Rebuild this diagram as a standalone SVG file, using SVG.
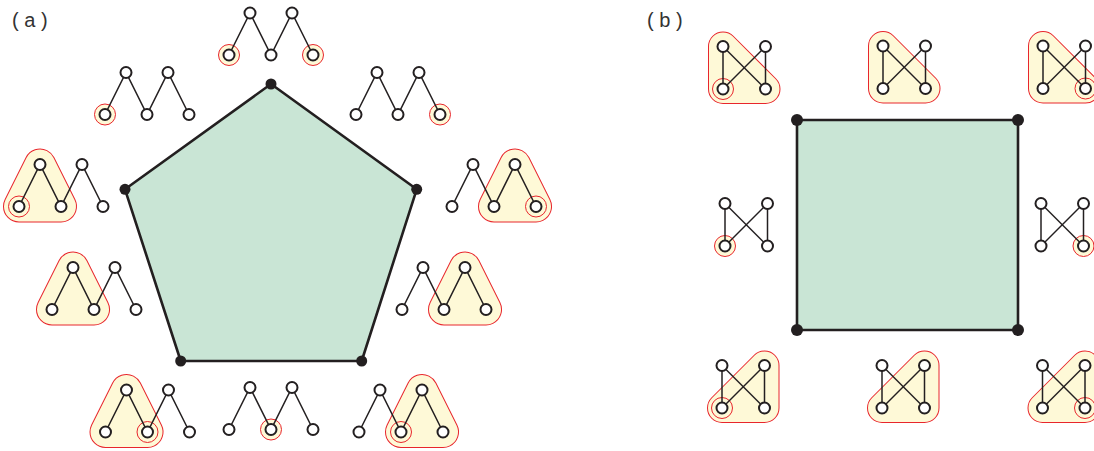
<svg xmlns="http://www.w3.org/2000/svg" xmlns:xlink="http://www.w3.org/1999/xlink" width="1094" height="451" viewBox="0 0 1094 451">
<style>
.lbl{font-family:"Liberation Sans",Arial,sans-serif;font-size:20px;fill:#333}
.shape{fill:#c9e5d5;stroke:#231f20;stroke-width:2.6;stroke-linejoin:round}
.v{fill:#231f20}
.e{stroke:#231f20;stroke-width:1.5;fill:none}
.n{fill:#fff;stroke:#231f20;stroke-width:2}
.hc{fill:#fef9d7;stroke:#e8262c;stroke-width:1}
.bo{fill:#fef9d7;stroke:#e8262c;stroke-width:32;stroke-linejoin:round}
.bi{fill:#fef9d7;stroke:#fef9d7;stroke-width:30;stroke-linejoin:round}
.bo2{fill:#fef9d7;stroke:#e8262c;stroke-width:30;stroke-linejoin:round}
.bi2{fill:#fef9d7;stroke:#fef9d7;stroke-width:28;stroke-linejoin:round}
</style>
<defs>
<g id="zz">
<polyline class="e" points="0,42 21,0 42,42 63,0 84,42"/>
<circle class="n" cx="0" cy="42" r="5.5"/>
<circle class="n" cx="21" cy="0" r="5.5"/>
<circle class="n" cx="42" cy="42" r="5.5"/>
<circle class="n" cx="63" cy="0" r="5.5"/>
<circle class="n" cx="84" cy="42" r="5.5"/>
</g>
<g id="bt">
<line class="e" x1="0" y1="0" x2="0" y2="42.5"/>
<line class="e" x1="42.5" y1="0" x2="42.5" y2="42.5"/>
<line class="e" x1="0" y1="0" x2="42.5" y2="42.5"/>
<line class="e" x1="42.5" y1="0" x2="0" y2="42.5"/>
<circle class="n" cx="0" cy="0" r="5.5"/>
<circle class="n" cx="42.5" cy="0" r="5.5"/>
<circle class="n" cx="0" cy="42.5" r="5.5"/>
<circle class="n" cx="42.5" cy="42.5" r="5.5"/>
</g>
<path id="blobL" d="M0,42 L21,0 L42,42 Z"/>
<path id="blobR" d="M42,42 L63,0 L84,42 Z"/>
<path id="blobT" d="M0,0 L0,42.5 L42.5,42.5 Z"/>
<path id="blobB" d="M0,42.5 L42.5,0 L42.5,42.5 Z"/>
</defs>

<text class="lbl" x="12" y="27">( a )</text>
<text class="lbl" x="647" y="27">( b )</text>

<g id="pentagon">
<polygon class="shape" points="271,84 416.7,189.3 361.7,361 180.7,361 125,189.3"/>
<circle class="v" cx="271" cy="84" r="5.5"/>
<circle class="v" cx="416.7" cy="189.3" r="5.5"/>
<circle class="v" cx="361.7" cy="361" r="5.5"/>
<circle class="v" cx="180.7" cy="361" r="5.5"/>
<circle class="v" cx="125" cy="189.3" r="5.5"/>
</g>

<g id="square">
<rect class="shape" x="797" y="120" width="221" height="210"/>
<circle class="v" cx="797" cy="120" r="6"/>
<circle class="v" cx="1018" cy="120" r="6"/>
<circle class="v" cx="1018" cy="330" r="6"/>
<circle class="v" cx="797" cy="330" r="6"/>
</g>

<g id="connectors">
<!-- motif internal edges are part of the reused motif drawings -->
</g>

<g id="a-top" transform="translate(229,13)">
<circle class="hc" cx="0" cy="42" r="10.5"/>
<circle class="hc" cx="84" cy="42" r="10.5"/>
<use xlink:href="#zz"/>
</g>
<g id="a-upper-left" transform="translate(105,72.5)">
<circle class="hc" cx="0" cy="42" r="10.5"/>
<use xlink:href="#zz"/>
</g>
<g id="a-upper-right" transform="translate(356,72.5)">
<circle class="hc" cx="84" cy="42" r="10.5"/>
<use xlink:href="#zz"/>
</g>
<g id="a-mid-left" transform="translate(19,164.5)">
<use xlink:href="#blobL" class="bo"/>
<use xlink:href="#blobL" class="bi"/>
<circle class="hc" cx="0" cy="42" r="10.5"/>
<use xlink:href="#zz"/>
</g>
<g id="a-mid-right" transform="translate(452,164.5)">
<use xlink:href="#blobR" class="bo"/>
<use xlink:href="#blobR" class="bi"/>
<circle class="hc" cx="84" cy="42" r="10.5"/>
<use xlink:href="#zz"/>
</g>
<g id="a-lower-left" transform="translate(52,267.5)">
<use xlink:href="#blobL" class="bo"/>
<use xlink:href="#blobL" class="bi"/>
<use xlink:href="#zz"/>
</g>
<g id="a-lower-right" transform="translate(402,267.5)">
<use xlink:href="#blobR" class="bo"/>
<use xlink:href="#blobR" class="bi"/>
<use xlink:href="#zz"/>
</g>
<g id="a-bottom-left" transform="translate(105.5,390)">
<use xlink:href="#blobL" class="bo"/>
<use xlink:href="#blobL" class="bi"/>
<circle class="hc" cx="42" cy="42" r="10.5"/>
<use xlink:href="#zz"/>
</g>
<g id="a-bottom-center" transform="translate(229,387.5)">
<circle class="hc" cx="42" cy="42" r="10.5"/>
<use xlink:href="#zz"/>
</g>
<g id="a-bottom-right" transform="translate(359,390)">
<use xlink:href="#blobR" class="bo"/>
<use xlink:href="#blobR" class="bi"/>
<circle class="hc" cx="42" cy="42" r="10.5"/>
<use xlink:href="#zz"/>
</g>

<g id="b-top-left" transform="translate(723,46.5)">
<use xlink:href="#blobT" class="bo2"/>
<use xlink:href="#blobT" class="bi2"/>
<circle class="hc" cx="0" cy="42.5" r="10.5"/>
<use xlink:href="#bt"/>
</g>
<g id="b-top-mid" transform="translate(883,46)">
<use xlink:href="#blobT" class="bo2"/>
<use xlink:href="#blobT" class="bi2"/>
<use xlink:href="#bt"/>
</g>
<g id="b-top-right" transform="translate(1043,46)">
<use xlink:href="#blobT" class="bo2"/>
<use xlink:href="#blobT" class="bi2"/>
<circle class="hc" cx="42.5" cy="42.5" r="10.5"/>
<use xlink:href="#bt"/>
</g>
<g id="b-mid-left" transform="translate(725,203.5)">
<circle class="hc" cx="0" cy="42.5" r="10.5"/>
<use xlink:href="#bt"/>
</g>
<g id="b-mid-right" transform="translate(1041,203.5)">
<circle class="hc" cx="42.5" cy="42.5" r="10.5"/>
<use xlink:href="#bt"/>
</g>
<g id="b-bottom-left" transform="translate(722,365.5)">
<use xlink:href="#blobB" class="bo2"/>
<use xlink:href="#blobB" class="bi2"/>
<circle class="hc" cx="0" cy="42.5" r="10.5"/>
<use xlink:href="#bt"/>
</g>
<g id="b-bottom-mid" transform="translate(882,365.5)">
<use xlink:href="#blobB" class="bo2"/>
<use xlink:href="#blobB" class="bi2"/>
<use xlink:href="#bt"/>
</g>
<g id="b-bottom-right" transform="translate(1042.5,365.5)">
<use xlink:href="#blobB" class="bo2"/>
<use xlink:href="#blobB" class="bi2"/>
<circle class="hc" cx="42.5" cy="42.5" r="10.5"/>
<use xlink:href="#bt"/>
</g>
</svg>
